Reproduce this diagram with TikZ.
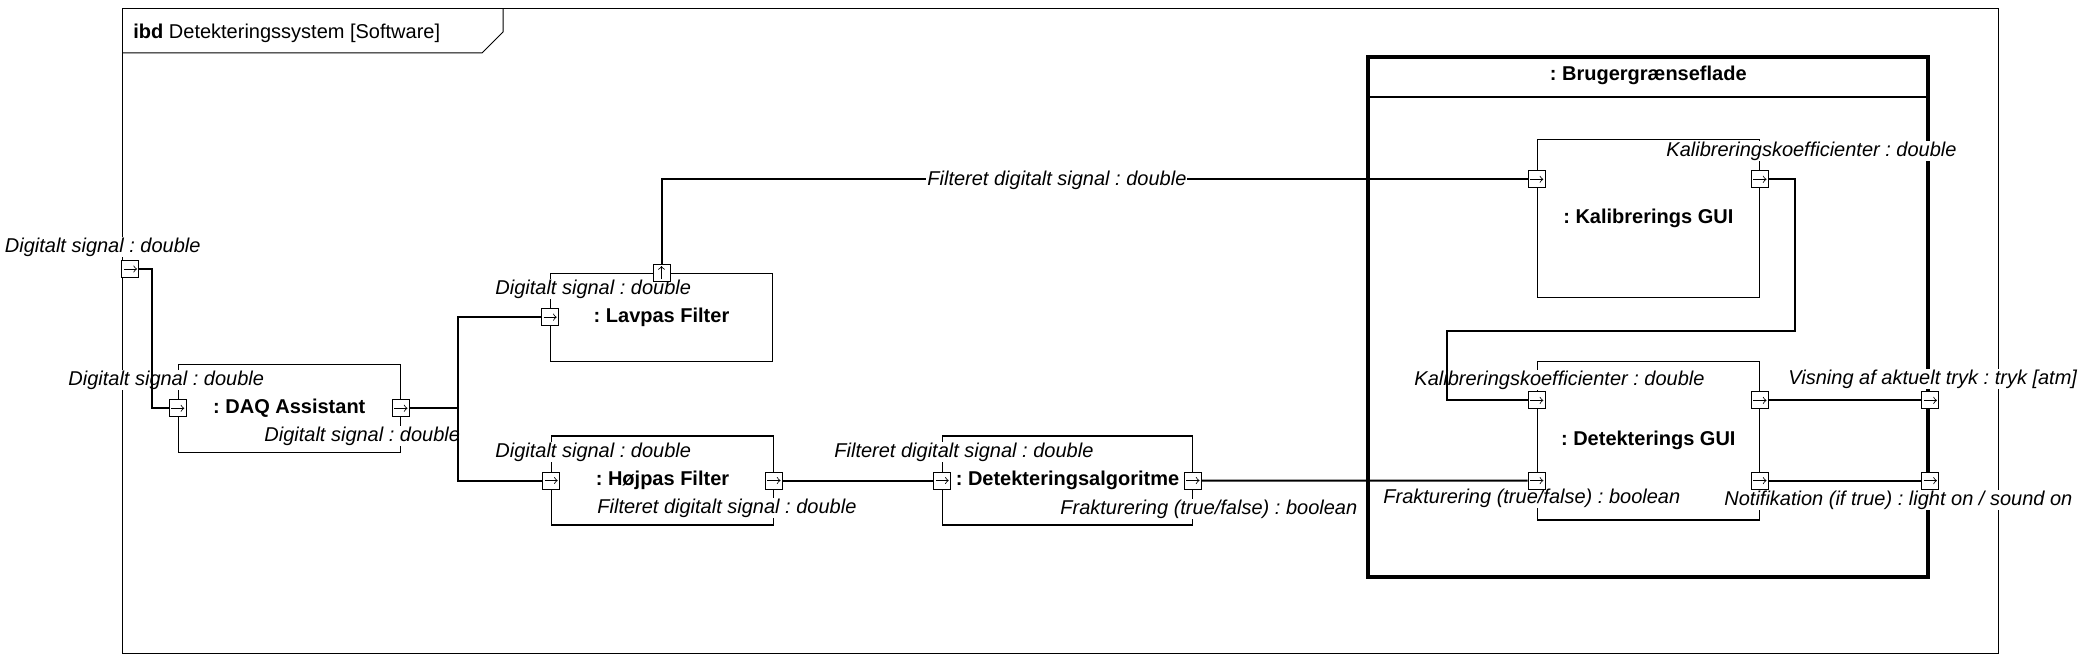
\documentclass[tikz,border=0pt]{standalone}
\usepackage{fontspec}
\setmainfont{Liberation Sans}

\begin{document}
\frenchspacing
\begin{tikzpicture}[x=0.5pt, y=-0.5pt,
  part/.style={draw, line width=0.6pt, font=\bfseries, inner sep=0pt},
  portbox/.style={draw, line width=0.5pt, fill=white, minimum size=8.5pt, inner sep=0pt},
  port/.style={portbox, path picture={\draw[line width=0.4pt, ->, >=to]
    ([xshift=-3.3pt]path picture bounding box.center) -- ([xshift=3.3pt]path picture bounding box.center);}},
  portup/.style={portbox, path picture={\draw[line width=0.4pt, ->, >=to]
    ([yshift=-3.3pt]path picture bounding box.center) -- ([yshift=3.3pt]path picture bounding box.center);}},
  lbl/.style={font=\itshape, fill=white, inner sep=0.5pt, anchor=west},
  conn/.style={line width=1pt}]
\useasboundingbox (0, 0) rectangle (2086, 668);

% frame
\draw[line width=0.5pt] (122, 9) rectangle (1998, 653);
\draw[line width=0.5pt] (122, 53) -- (482, 53) -- (503, 32) -- (503, 9);
\node (hdr) at (132, 33) [anchor=west, inner sep=0.5pt] {\textbf{ibd} Detekteringssystem [Software]};

% parts
\node (daq) at (289.3, 408.3) [part, minimum width=111pt, minimum height=44pt] {: DAQ Assistant};
\node (lav) at (661.5, 317.2) [part, minimum width=110.8pt, minimum height=43.9pt] {: Lavpas Filter};
\node (hoj) at (662.5, 480.5) [part, minimum width=110.8pt, minimum height=44.5pt] {: Højpas Filter};
\node (det) at (1067.5, 480.5) [part, minimum width=124.8pt, minimum height=44.5pt] {: Detekteringsalgoritme};
\node (brug) at (1648.3, 316.6) [part, line width=2pt, minimum width=280pt, minimum height=260pt] {};
\draw[line width=0.75pt] ([yshift=-21.3pt]brug.north west) -- ([yshift=-21.3pt]brug.north east);
\node (brugTitle) at ([yshift=-10.5pt]brug.north) [font=\bfseries] {: Brugergrænseflade};
\node (kal) at (1648.3, 218.8) [part, minimum width=111pt, minimum height=78.9pt] {: Kalibrerings GUI};
\node (gui) at (1648.3, 440.8) [part, minimum width=111pt, minimum height=79.2pt] {: Detekterings GUI};

% port labels
\node (lblFrame) at (3.5, 247) [lbl] {Digitalt signal : double};
\node (lblDaqIn) at (67, 380) [lbl] {Digitalt signal : double};
\node (lblDaqOut) at (263, 436) [lbl] {Digitalt signal : double};
\node (lblLavIn) at (494, 289) [lbl] {Digitalt signal : double};
\node (lblHojIn) at (494, 452) [lbl] {Digitalt signal : double};
\node (lblHojOut) at (596, 508) [lbl] {Filteret digitalt signal : double};
\node (lblDetIn) at (833, 452) [lbl] {Filteret digitalt signal : double};
\node (lblDetOut) at (1059, 509) [lbl] {Frakturering (true/false) : boolean};
\node (lblKalOut) at (1665, 151) [lbl] {Kalibreringskoefficienter : double};
\node (lblGuiK) at (1413, 380) [lbl] {Kalibreringskoefficienter : double};
\node (lblGuiF) at (1382, 498) [lbl] {Frakturering (true/false) : boolean};
\node (lblVis) at (1787, 379) [lbl] {Visning af aktuelt tryk : tryk [atm]};
\node (lblNot) at (1723, 500) [lbl] {Notifikation (if true) : light on / sound on};

% ports
\node (fIn) at (130.4, 269) [port] {};
\node (daqIn) at (daq.west) [port] {};
\node (daqOut) at (daq.east) [port] {};
\node (lavIn) at (lav.west) [port] {};
\node (lavOut) at (lav.north) [portup] {};
\node (hojIn) at (hoj.west) [port] {};
\node (hojOut) at (hoj.east) [port] {};
\node (detIn) at (det.west) [port] {};
\node (detOut) at (det.east) [port] {};
\node (kalIn) at ([yshift=-20pt]kal.north west) [port] {};
\node (kalOut) at ([yshift=-20pt]kal.north east) [port] {};
\node (guiInK) at ([yshift=-19.7pt]gui.north west) [port] {};
\node (guiInF) at ([yshift=20pt]gui.south west) [port] {};
\node (guiOutV) at ([yshift=-19.7pt]gui.north east) [port] {};
\node (guiOutN) at ([yshift=20pt]gui.south east) [port] {};
\node (brugV) at (brug.east |- guiOutV) [port] {};
\node (brugN) at (brug.east |- guiOutN) [port] {};

% connectors
\draw[conn] (fIn.east) -- ++(12.3, 0) |- (daqIn.west);
\draw[conn] (daqOut.east) -- ++(48.5, 0) coordinate (split) |- (lavIn.west);
\draw[conn] (split) |- (hojIn.west);
\draw[conn] (lavOut.north) |- (kalIn.west);
\draw[conn] (hojOut.east) -- (detIn.west);
\draw[conn] (detOut.east) -- (guiInF.west);
\draw[conn] (kalOut.east) -- ++(26.5, 0) |- ++(-348.3, 151.7) |- (guiInK.west);
\draw[conn] (guiOutV.east) -- (brugV.west);
\draw[conn] (guiOutN.east) -- (brugN.west);
\node (lblLink) at (926, 180) [lbl] {Filteret digitalt signal : double};
\end{tikzpicture}
\end{document}
